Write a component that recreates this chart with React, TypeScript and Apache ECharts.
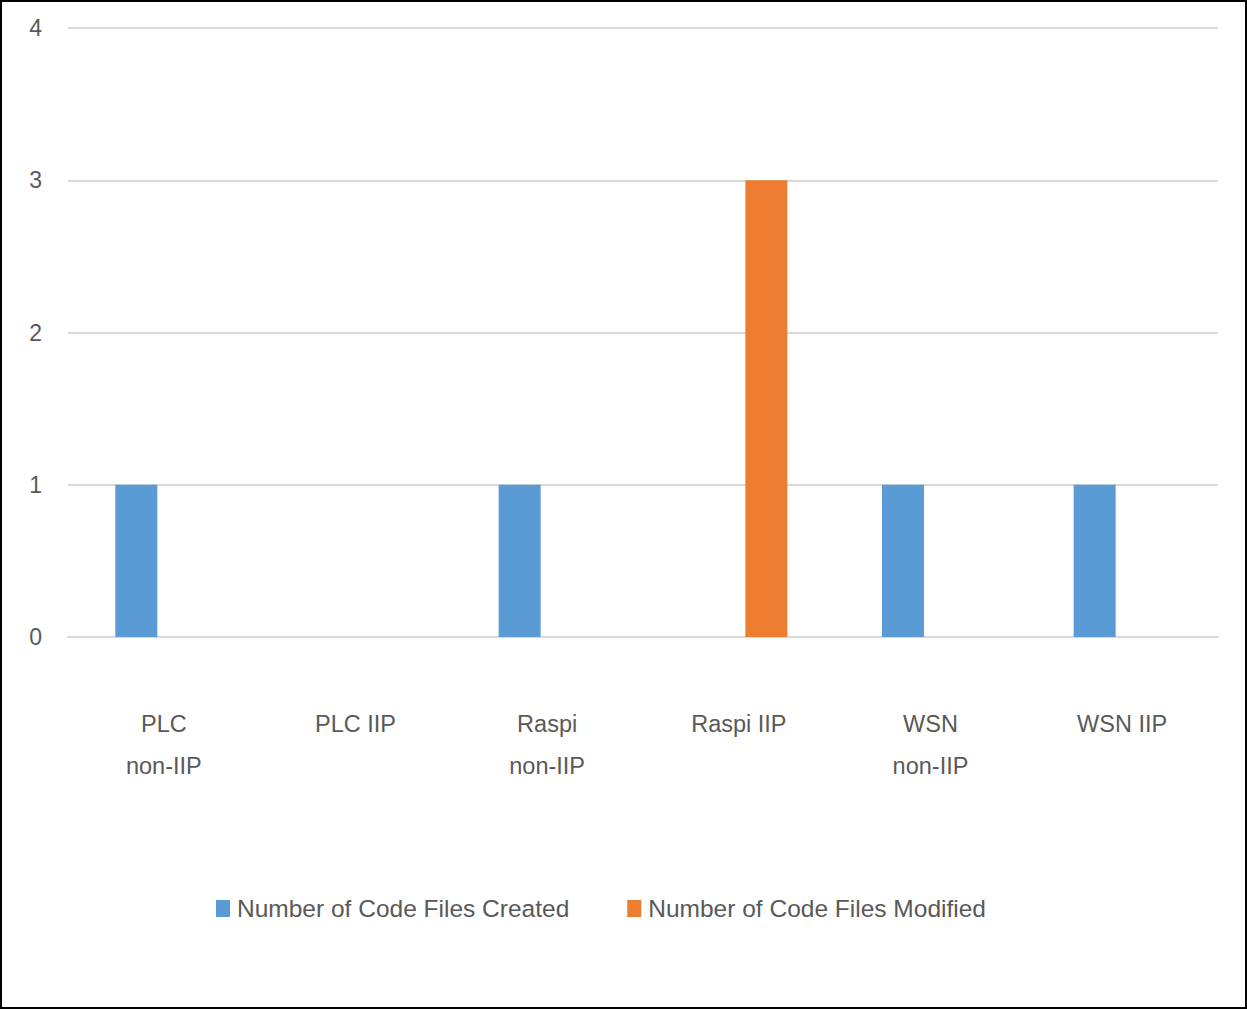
import React, { useEffect, useRef } from "react";
import * as echarts from "echarts";

const categories = ["PLC\nnon-IIP", "PLC IIP", "Raspi\nnon-IIP", "Raspi IIP", "WSN\nnon-IIP", "WSN IIP"];
const createdValues = [1, 0, 1, 0, 1, 1];
const modifiedValues = [0, 0, 0, 3, 0, 0];
const seriesNames = ["Number of Code Files Created", "Number of Code Files Modified"];

const FONT = '"Liberation Sans", Arial, sans-serif';
const TEXT = "#595959";

export default function App() {
  const ref = useRef<HTMLDivElement>(null);
  useEffect(() => {
    document.body.style.margin = "0";
    const chart = echarts.init(ref.current!, null, { renderer: "svg" });
    chart.setOption({
      animation: false,
      backgroundColor: "#ffffff",
      grid: { left: 66, right: 27, top: 26, bottom: 370, containLabel: false },
      legend: {
        left: 214,
        top: 894,
        padding: 0,
        itemWidth: 14,
        itemHeight: 17,
        itemGap: 58,
        icon: "rect",
        textStyle: { fontFamily: FONT, fontSize: 24.5, color: TEXT, padding: [0, 0, 0, 2] },
        data: seriesNames,
      },
      xAxis: {
        type: "category",
        data: categories,
        axisLine: { show: true, lineStyle: { color: "#d9d9d9", width: 2 } },
        axisTick: { show: false },
        axisLabel: {
          fontFamily: FONT,
          fontSize: 23.5,
          color: TEXT,
          lineHeight: 42,
          margin: 66,
          interval: 0,
          verticalAlign: "top",
        },
      },
      yAxis: {
        type: "value",
        min: 0,
        max: 4,
        interval: 1,
        axisLine: { show: false },
        axisTick: { show: false },
        axisLabel: { fontFamily: FONT, fontSize: 23, color: TEXT, margin: 26 },
        splitLine: { lineStyle: { color: "#d9d9d9", width: 2 } },
      },
      series: [
        {
          name: seriesNames[0],
          type: "bar",
          data: createdValues,
          barWidth: 42,
          barGap: "31%",
          itemStyle: { color: "#5B9BD5" },
        },
        {
          name: seriesNames[1],
          type: "bar",
          data: modifiedValues,
          barWidth: 42,
          barGap: "31%",
          itemStyle: { color: "#ED7D31" },
        },
      ],
    });
    return () => chart.dispose();
  }, []);
  return (
    <div
      style={{
        width: 1247,
        height: 1009,
        boxSizing: "border-box",
        border: "2px solid #000",
        background: "#fff",
      }}
    >
      <div ref={ref} style={{ width: 1243, height: 1005 }} />
    </div>
  );
}
